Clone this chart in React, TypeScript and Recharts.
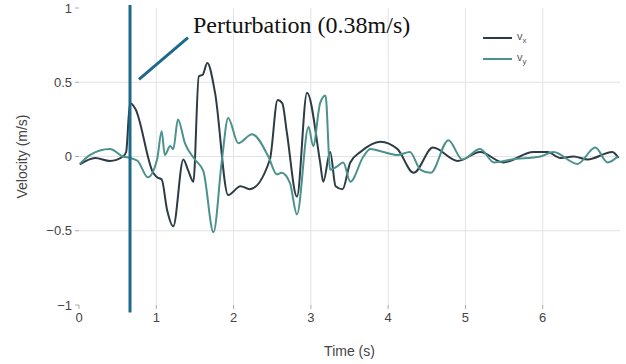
import React from "react";
import {
  LineChart,
  Line,
  XAxis,
  YAxis,
  CartesianGrid,
  ReferenceLine,
  ReferenceDot,
  Legend,
} from "recharts";

const vxTime = [0.01, 0.21, 0.4, 0.57, 0.61, 0.66, 0.73, 0.96, 1.01, 1.07, 1.14, 1.22, 1.35, 1.41, 1.48, 1.55, 1.6, 1.66, 1.76, 1.93, 2.09, 2.21, 2.47, 2.57, 2.63, 2.69, 2.82, 2.95, 3.12, 3.16, 3.25, 3.32, 3.41, 3.51, 3.64, 3.9, 4.12, 4.33, 4.58, 4.9, 5.19, 5.49, 5.88, 6.06, 6.23, 6.4, 6.58, 6.9, 6.98];
const vxValues = [-0.054, -0.01, -0.03, 0.0, 0.03, 0.36, 0.32, -0.11, -0.14, -0.155, -0.36, -0.47, -0.02, -0.09, -0.17, 0.54, 0.55, 0.63, 0.43, -0.26, -0.2, -0.22, -0.02, 0.38, 0.36, 0.16, -0.27, 0.43, -0.04, -0.17, 0.03, -0.2, -0.22, -0.04, 0.03, 0.1, 0.05, -0.11, 0.06, -0.03, 0.03, -0.04, 0.03, 0.03, -0.01, 0.0, -0.02, 0.03, -0.01];

const vyTime = [0.01, 0.14, 0.4, 0.57, 0.66, 0.76, 0.89, 1.01, 1.07, 1.11, 1.18, 1.22, 1.28, 1.37, 1.5, 1.61, 1.74, 1.85, 1.93, 2.06, 2.24, 2.45, 2.56, 2.62, 2.73, 2.82, 2.97, 3.03, 3.12, 3.19, 3.25, 3.33, 3.42, 3.51, 3.68, 3.77, 3.94, 4.12, 4.28, 4.42, 4.55, 4.78, 4.96, 5.19, 5.37, 5.6, 5.97, 6.14, 6.45, 6.68, 6.84, 6.97];
const vyValues = [-0.05, 0.01, 0.05, 0.0, -0.01, -0.03, -0.14, -0.02, 0.17, 0.01, 0.07, 0.05, 0.25, 0.09, -0.02, -0.1, -0.51, -0.02, 0.26, 0.09, 0.15, 0.0, -0.12, -0.11, -0.18, -0.39, 0.2, 0.07, 0.36, 0.41, -0.09, -0.07, -0.04, -0.17, 0.0, 0.05, 0.03, 0.01, 0.03, -0.09, -0.11, 0.11, -0.02, 0.05, -0.04, -0.02, 0.0, 0.03, -0.05, 0.06, -0.04, 0.0];

const xTicks = [0, 1, 2, 3, 4, 5, 6];
const yTicks = [-1, -0.5, 0, 0.5, 1];
const gridX = [1, 2, 3, 4, 5, 6];
const gridY = [-0.5, 0, 0.5];

const perturbationTime = 0.66;
const annotationText = "Perturbation (0.38m/s)";
const annotationStart = { x: 0.776, y: 0.519 };
const annotationEnd = { x: 1.41, y: 0.8 };

const vxData = vxTime.map((t, i) => ({ t, v: vxValues[i] }));
const vyData = vyTime.map((t, i) => ({ t, v: vyValues[i] }));

const VX_COLOR = "#2d3b45";
const VY_COLOR = "#4b918d";
const MARK_COLOR = "#1d6a8b";
const FONT = "'Liberation Sans', Arial, sans-serif";

const fmt = (v: number) => (v < 0 ? "\u2212" + Math.abs(v) : String(v));

const LegendContent = () => (
  <div style={{ fontFamily: FONT, fontSize: 11, color: "#555" }}>
    {[
      { c: VX_COLOR, s: "x" },
      { c: VY_COLOR, s: "y" },
    ].map((it) => (
      <div key={it.s} style={{ display: "flex", alignItems: "center", height: 21 }}>
        <div style={{ width: 29, height: 2, background: it.c, marginRight: 5 }} />
        <span>
          v<sub style={{ fontSize: 8 }}>{it.s}</sub>
        </span>
      </div>
    ))}
  </div>
);

export default function App() {
  return (
    <div style={{ width: 626, height: 364, position: "relative" }}>
      <style>{`body{margin:0}`}</style>
      <LineChart
        width={626}
        height={364}
        margin={{ top: 8, right: 6, bottom: 0, left: 10 }}
      >
        <CartesianGrid
          stroke="#e3e3e3"
          horizontalValues={gridY}
          verticalValues={gridX}
        />
        <XAxis
          type="number"
          dataKey="t"
          domain={[0, 7]}
          ticks={xTicks}
          allowDataOverflow
          axisLine={false}
          tickLine={{ stroke: "#aaa" }}
          tickSize={4}
          tickMargin={4}
          height={59}
          tick={{ fill: "#444", fontSize: 13, fontFamily: FONT }}
          label={{
            value: "Time (s)",
            position: "insideBottom",
            offset: 8,
            fill: "#444",
            fontSize: 14,
            fontFamily: FONT,
          }}
        />
        <YAxis
          type="number"
          domain={[-1, 1]}
          ticks={yTicks}
          width={69}
          axisLine={false}
          tickLine={{ stroke: "#aaa" }}
          tickSize={4}
          tickMargin={3}
          tickFormatter={fmt}
          tick={{ fill: "#444", fontSize: 13, fontFamily: FONT }}
          label={{
            content: (p: any) => {
              const vb = p.viewBox || { x: 10, y: 8, height: 297 };
              const cx = vb.x + 12;
              const cy = vb.y + vb.height / 2;
              return (
                <text
                  x={cx}
                  y={cy}
                  transform={`rotate(-90 ${cx} ${cy})`}
                  textAnchor="middle"
                  dominantBaseline="central"
                  fill="#444"
                  fontSize={14}
                  fontFamily={FONT}
                >
                  Velocity (m/s)
                </text>
              );
            },
          }}
        />
        <Legend
          verticalAlign="middle"
          align="center"
          layout="vertical"
          content={<LegendContent />}
          wrapperStyle={{ position: "absolute", top: 27, left: 483, width: 60 }}
        />
        <Line
          data={vxData}
          dataKey="v"
          name="vx"
          type="monotone"
          stroke={VX_COLOR}
          strokeWidth={2}
          dot={false}
          isAnimationActive={false}
        />
        <Line
          data={vyData}
          dataKey="v"
          name="vy"
          type="monotone"
          stroke={VY_COLOR}
          strokeWidth={2}
          dot={false}
          isAnimationActive={false}
        />
        <ReferenceLine
          segment={[
            { x: perturbationTime, y: 1.02 },
            { x: perturbationTime, y: -1.05 },
          ]}
          stroke={MARK_COLOR}
          strokeWidth={3}
          ifOverflow="visible"
        />
        <ReferenceLine
          segment={[annotationStart, annotationEnd]}
          stroke={MARK_COLOR}
          strokeWidth={3}
          ifOverflow="visible"
        />
        <ReferenceDot
          x={annotationEnd.x}
          y={annotationEnd.y}
          r={0}
          ifOverflow="visible"
          label={{
            content: (p: any) => {
              const vb = p.viewBox || { x: 0, y: 0 };
              return (
                <text
                  x={vb.x + 5}
                  y={vb.y - 5}
                  fill="#111"
                  fontSize={24}
                  fontFamily="'Liberation Serif', 'Times New Roman', serif"
                >
                  {annotationText}
                </text>
              );
            },
          }}
        />
      </LineChart>
    </div>
  );
}
